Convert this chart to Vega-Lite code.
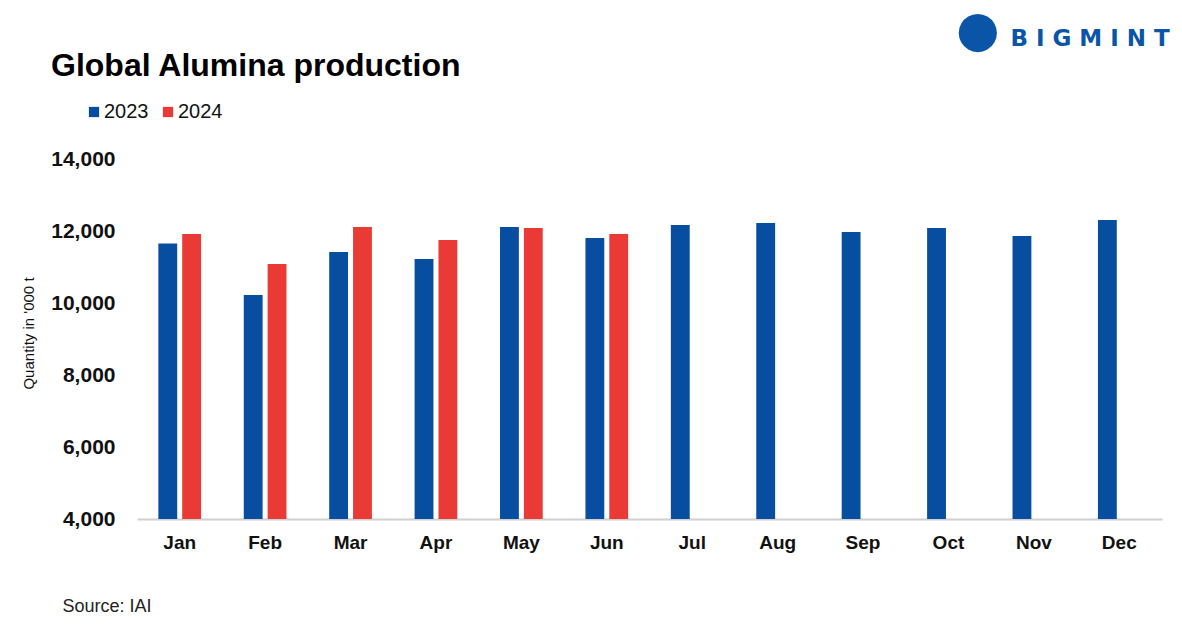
{
  "$schema": "https://vega.github.io/schema/vega-lite/v6.json",
  "width": 1025,
  "height": 360,
  "autosize": {"type": "none"},
  "padding": {"left": 137, "top": 159, "right": 20, "bottom": 108},
  "background": "white",
  "title": {
    "text": "Global Alumina production",
    "anchor": "start",
    "frame": "group",
    "dx": -86,
    "dy": 102,
    "offset": 0,
    "baseline": "alphabetic",
    "font": "Liberation Sans",
    "fontSize": 32,
    "fontWeight": "bold",
    "color": "#000000"
  },
  "config": {
    "view": {"stroke": null},
    "font": "Liberation Sans"
  },
  "layer": [
    {
      "data": {
        "values": [
          {"month": "Jan", "year": "2023", "value": 11650},
          {"month": "Jan", "year": "2024", "value": 11917},
          {"month": "Feb", "year": "2023", "value": 10222},
          {"month": "Feb", "year": "2024", "value": 11083},
          {"month": "Mar", "year": "2023", "value": 11417},
          {"month": "Mar", "year": "2024", "value": 12111},
          {"month": "Apr", "year": "2023", "value": 11222},
          {"month": "Apr", "year": "2024", "value": 11750},
          {"month": "May", "year": "2023", "value": 12111},
          {"month": "May", "year": "2024", "value": 12083},
          {"month": "Jun", "year": "2023", "value": 11806},
          {"month": "Jun", "year": "2024", "value": 11917},
          {"month": "Jul", "year": "2023", "value": 12167},
          {"month": "Aug", "year": "2023", "value": 12222},
          {"month": "Sep", "year": "2023", "value": 11972},
          {"month": "Oct", "year": "2023", "value": 12083},
          {"month": "Nov", "year": "2023", "value": 11861},
          {"month": "Dec", "year": "2023", "value": 12306}
        ]
      },
      "mark": {"type": "bar", "clip": true},
      "encoding": {
        "x": {
          "field": "month",
          "type": "nominal",
          "sort": ["Jan", "Feb", "Mar", "Apr", "May", "Jun", "Jul", "Aug", "Sep", "Oct", "Nov", "Dec"],
          "scale": {"paddingInner": 0.5, "paddingOuter": 0.25},
          "axis": {
            "title": "Source: IAI",
            "titleAnchor": "start",
            "titleAlign": "left",
            "titleX": -75,
            "titleY": 87,
            "titleBaseline": "middle",
            "titleFont": "Liberation Sans",
            "titleFontSize": 18,
            "titleFontWeight": "normal",
            "titleColor": "#222222",
            "labelAngle": 0,
            "labelFont": "Liberation Sans",
            "labelFontSize": 19,
            "labelFontWeight": "bold",
            "labelColor": "#111111",
            "labelPadding": 14,
            "ticks": false,
            "domainColor": "#d0d0d0",
            "domainWidth": 2
          }
        },
        "xOffset": {
          "field": "year",
          "type": "nominal",
          "scale": {"domain": ["2023", "2024"], "paddingInner": 0.21}
        },
        "y": {
          "field": "value",
          "type": "quantitative",
          "scale": {"domain": [4000, 14000], "nice": false, "zero": false},
          "axis": {
            "values": [4000, 6000, 8000, 10000, 12000, 14000],
            "format": ",d",
            "grid": false,
            "domain": false,
            "ticks": false,
            "labelFont": "Liberation Sans",
            "labelFontSize": 21,
            "labelFontWeight": "bold",
            "labelColor": "#111111",
            "labelPadding": 22,
            "title": "Quantity in '000 t",
            "titleFont": "Liberation Sans",
            "titleFontSize": 15,
            "titleFontWeight": "normal",
            "titleColor": "#111111",
            "titleX": -109,
            "titleY": 174,
            "titleBaseline": "middle",
            "titleAlign": "center"
          }
        },
        "color": {
          "field": "year",
          "type": "nominal",
          "scale": {"domain": ["2023", "2024"], "range": ["#084ea0", "#ea3a36"]},
          "legend": {
            "title": null,
            "orient": "none",
            "legendX": -53,
            "legendY": -57,
            "direction": "horizontal",
            "symbolType": "square",
            "symbolSize": 105,
            "symbolStrokeWidth": 0,
            "labelFont": "Liberation Sans",
            "labelFontSize": 20,
            "labelColor": "#111111",
            "labelOffset": 0,
            "columnPadding": 9,
            "padding": 0
          }
        }
      }
    },
    {
      "data": {"values": [{"t": "B I G M I N T"}]},
      "mark": {
        "type": "text",
        "align": "right",
        "baseline": "alphabetic",
        "dx": 50.5,
        "font": "DejaVu Sans",
        "fontSize": 23,
        "fontWeight": "bold",
        "color": "#0a55a8"
      },
      "encoding": {
        "x": {"datum": "Dec"},
        "y": {"datum": 17139},
        "text": {"field": "t"}
      }
    },
    {
      "data": {"values": [{"t": "●"}]},
      "mark": {
        "type": "text",
        "align": "center",
        "baseline": "middle",
        "dx": -141.5,
        "font": "DejaVu Sans",
        "fontSize": 50,
        "color": "#0a55a8"
      },
      "encoding": {
        "x": {"datum": "Dec"},
        "y": {"datum": 17556},
        "text": {"field": "t"}
      }
    }
  ]
}
